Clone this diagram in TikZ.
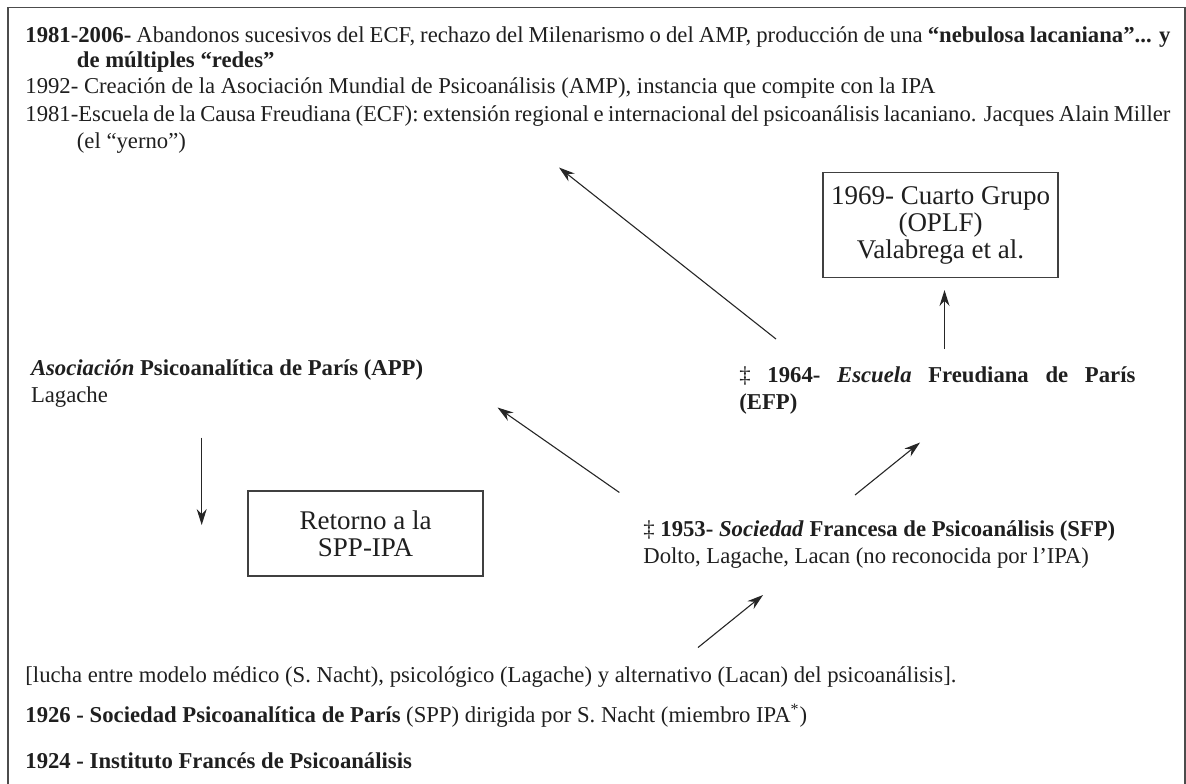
\documentclass[tikz,border=0pt]{standalone}
\usepackage{fontspec}
\setmainfont{Liberation Serif}
\usetikzlibrary{arrows.meta}
\tikzset{>={Stealth[length=8pt,width=5pt]}}
\tikzset{txt/.style={anchor=base west,inner sep=0pt,text=black!88}}
\tikzset{boxed/.style={draw=black!75,line width=0.7pt,inner sep=0pt,align=center,text=black!88,font=\fontsize{13.5}{13.5}\selectfont}}
\tikzset{link/.style={->,line width=0.55pt,black!85}}

\begin{document}
\begin{tikzpicture}[x=0.5pt,y=-0.5pt,every node/.style={font=\fontsize{11.35}{13.5}\selectfont}]
  \useasboundingbox (0,0) rectangle (1186,783);

  % Frame
  \draw[black!70,line width=0.8pt] (7.7,790) -- (7.7,7.5) -- (1185,7.5) -- (1185,790);

  % Header lines
  \node[txt] (y2006) at (25,42) {\makebox[572.5pt][s]{\textbf{1981-2006-} Abandonos sucesivos del ECF, rechazo del Milenarismo o del AMP, producción de una \textbf{“nebulosa lacaniana”... y}}};
  \node[txt] (y2006b) at (76.5,67) {\textbf{de múltiples “redes”}};
  \node[txt] (y1992) at (25,93.5) {1992- Creación de la Asociación Mundial de Psicoanálisis (AMP), instancia que compite con la IPA};
  \node[txt] (y1981) at (25,121) {\makebox[572.5pt][s]{1981-Escuela de la Causa Freudiana (ECF): extensión regional e internacional del psicoanálisis lacaniano. Jacques Alain Miller}};
  \node[txt] (y1981b) at (76.5,148.5) {(el “yerno”)};

  % Groups
  \node[boxed,minimum width=117.5pt,minimum height=52.5pt] (cuarto) at (940.5,225) {1969- Cuarto Grupo\\(OPLF)\\Valabrega et al.};
  \node[txt] (efp) at (739,382) {\makebox[198pt][s]{‡ \textbf{1964- \textit{Escuela} Freudiana de París}}};
  \node[txt] (efpb) at (739,409.5) {\textbf{(EFP)}};
  \node[txt] (app) at (30.6,375) {\textbf{\textit{Asociación} Psicoanalítica de París (APP)}};
  \node[txt] (appb) at (30.6,402) {Lagache};
  \node[boxed,minimum width=117.5pt,minimum height=42.5pt] (retorno) at (365.5,533.5) {Retorno a la\\SPP-IPA};
  \node[txt] (sfp) at (643,536) {‡ \textbf{1953- \textit{Sociedad} Francesa de Psicoanálisis (SFP)}};
  \node[txt] (sfpb) at (643,563) {Dolto, Lagache, Lacan (no reconocida por l’IPA)};

  % Bottom lines
  \node[txt] (lucha) at (25,682) {[lucha entre modelo médico (S. Nacht), psicológico (Lagache) y alternativo (Lacan) del psicoanálisis].};
  \node[txt] (y1926) at (25,722) {\textbf{1926 - Sociedad Psicoanalítica de París} (SPP) dirigida por S. Nacht (miembro IPA\textsuperscript{*})};
  \node[txt] (y1924) at (25,768) {\textbf{1924 - Instituto Francés de Psicoanálisis}};

  % Arrows
  \coordinate (luchaup) at (698,647.5);
  \coordinate (sfpin) at (763,595);
  \coordinate (sfpout) at (855,495);
  \coordinate (efpin) at (920,442.5);
  \coordinate (efpout) at (944.5,349);
  \coordinate (cuartoin) at (944.5,290);
  \coordinate (efpleft) at (776,339);
  \coordinate (ecfin) at (559,167.5);
  \coordinate (sfpleft) at (619.4,492.5);
  \coordinate (appin) at (497.5,407.5);
  \coordinate (appdown) at (201.7,437.5);
  \coordinate (append) at (201.7,525);
  \draw[link] (luchaup) -- (sfpin);
  \draw[link] (sfpout) -- (efpin);
  \draw[link] (efpout) -- (cuartoin);
  \draw[link] (efpleft) -- (ecfin);
  \draw[link] (sfpleft) -- (appin);
  \draw[link] (appdown) -- (append);
\end{tikzpicture}
\end{document}
